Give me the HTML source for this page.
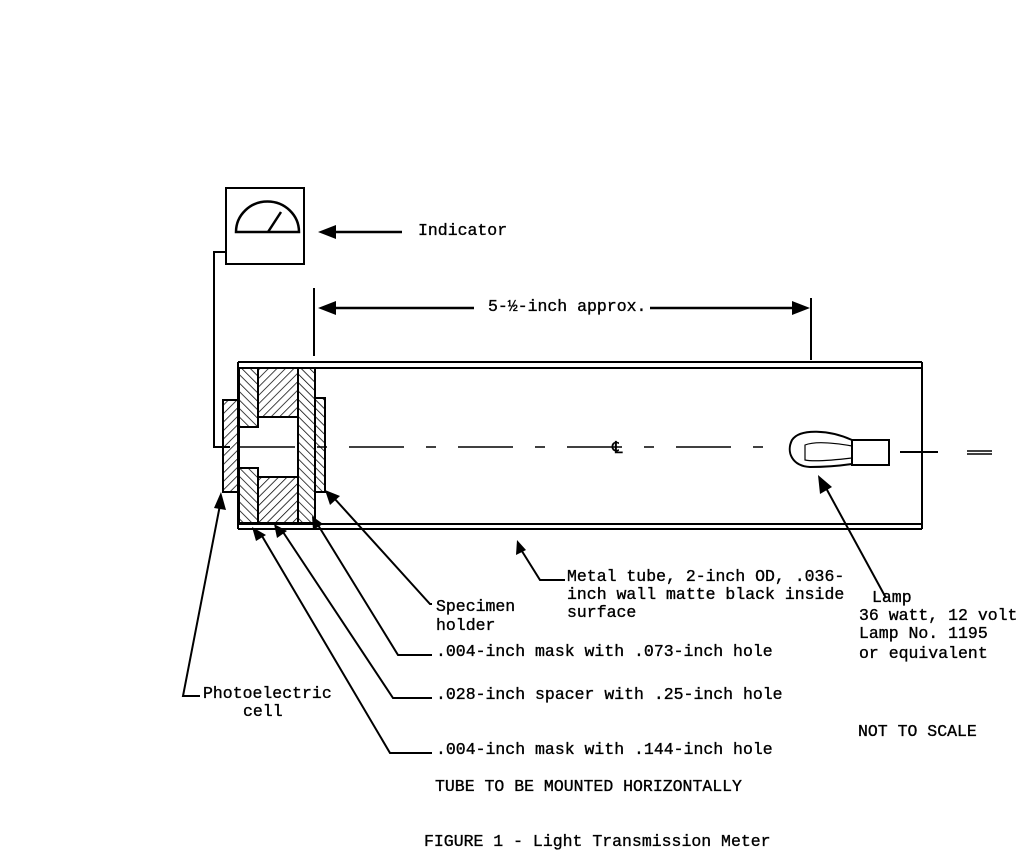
<!DOCTYPE html>
<html><head><meta charset="utf-8"><style>
html,body{margin:0;padding:0;background:#fff;}
svg{display:block;}
text{font-family:"Liberation Mono",monospace;font-size:16.5px;fill:#000;stroke:#000;stroke-width:0.35;}
</style></head><body>
<svg width="1018" height="851" viewBox="0 0 1018 851" xmlns="http://www.w3.org/2000/svg">
<defs>
<pattern id="h1" width="6" height="6" patternUnits="userSpaceOnUse" patternTransform="rotate(45)"><line x1="0" y1="0" x2="0" y2="6" stroke="#000" stroke-width="1.5"/></pattern>
<pattern id="h2" width="6" height="6" patternUnits="userSpaceOnUse" patternTransform="rotate(-45)"><line x1="0" y1="0" x2="0" y2="6" stroke="#000" stroke-width="1.5"/></pattern>
</defs>
<g fill="none" stroke="#000" stroke-width="2">
<rect x="226" y="188" width="78" height="76"/>
<path d="M236,232 A31,30 0 0 1 299,232 Z" stroke-width="2.5"/>
<line x1="268" y1="232" x2="281" y2="212" stroke-width="2.5"/>
<polyline points="226,252 214,252 214,447 230,447"/>
<line x1="332" y1="232" x2="402" y2="232" stroke-width="2.5"/>
<line x1="314" y1="288" x2="314" y2="356"/>
<line x1="811" y1="298" x2="811" y2="360"/>
<line x1="332" y1="308" x2="474" y2="308" stroke-width="2.5"/>
<line x1="650" y1="308" x2="796" y2="308" stroke-width="2.5"/>
<line x1="238" y1="362" x2="922" y2="362"/>
<line x1="238" y1="368" x2="922" y2="368"/>
<line x1="238" y1="524" x2="922" y2="524"/>
<line x1="238" y1="529" x2="922" y2="529"/>
<line x1="922" y1="362" x2="922" y2="529"/>
<line x1="238" y1="362" x2="238" y2="529"/>
<line x1="240" y1="447" x2="780" y2="447" stroke-dasharray="55,22,10,22" stroke-width="1.5"/>
<line x1="900" y1="452" x2="938" y2="452"/>
<line x1="922" y1="438" x2="922" y2="465"/>
<line x1="967" y1="451" x2="992" y2="451" stroke-width="1.5"/>
<line x1="967" y1="454" x2="992" y2="454" stroke-width="1.5"/>
<path d="M852,440 C830,430 800,428 792,440 C786,452 792,466 810,467 C830,467 845,465 852,464"/>
<path d="M852,446 C835,443 815,441 805,445 L805,460 C815,462 835,460 852,458" stroke-width="1.2"/>
<rect x="852" y="440" width="37" height="25"/>
<line x1="886" y1="598" x2="826" y2="488"/>
<polyline points="565,580 540,580 520,548"/>
<polyline points="432,604 430,604 334,498"/>
<polyline points="432,655 398,655 318,525"/>
<polyline points="432,698 393,698 283,532"/>
<polyline points="432,753 390,753 262,536"/>
<polyline points="200,696 183,696 220,505"/>
</g>
<g stroke="#000" stroke-width="2">
<rect x="223" y="400" width="16" height="92" fill="url(#h1)"/>
<rect x="239" y="368" width="19" height="59" fill="url(#h2)"/>
<rect x="239" y="468" width="19" height="55" fill="url(#h2)"/>
<rect x="258" y="368" width="40" height="49" fill="url(#h1)"/>
<rect x="258" y="477" width="40" height="46" fill="url(#h1)"/>
<rect x="298" y="368" width="17" height="155" fill="url(#h2)"/>
<rect x="315" y="398" width="10" height="94" fill="url(#h2)"/>
</g>
<g fill="#000">
<path d="M318,232 L336,225 L336,239 Z"/>
<path d="M318,308 L336,301 L336,315 Z"/>
<path d="M810,308 L792,301 L792,315 Z"/>
<path d="M818,475 L820,494 L832,487 Z"/>
<path d="M517,540 L516,555 L526,550 Z"/>
<path d="M325,490 L330,505 L340,496 Z"/>
<path d="M312,516 L313,530 L323,524 Z"/>
<path d="M274,524 L277,538 L287,531 Z"/>
<path d="M252,527 L256,541 L266,535 Z"/>
<path d="M221,492 L214,508 L226,510 Z"/>
</g>
<text x="418" y="235">Indicator</text>
<text x="488" y="311">5-½-inch approx.</text>
<text x="612" y="453" font-size="20">℄</text>
<text x="567" y="581">Metal tube, 2-inch OD, .036-</text>
<text x="567" y="599">inch wall matte black inside</text>
<text x="567" y="617">surface</text>
<text x="436" y="611">Specimen</text>
<text x="436" y="630">holder</text>
<text x="436" y="656">.004-inch mask with .073-inch hole</text>
<text x="436" y="699">.028-inch spacer with .25-inch hole</text>
<text x="436" y="754">.004-inch mask with .144-inch hole</text>
<text x="203" y="698">Photoelectric</text>
<text x="243" y="716">cell</text>
<text x="872" y="602">Lamp</text>
<text x="859" y="620">36 watt, 12 volt</text>
<text x="859" y="638">Lamp No. 1195</text>
<text x="859" y="658">or equivalent</text>
<text x="858" y="736">NOT TO SCALE</text>
<text x="435" y="791">TUBE TO BE MOUNTED HORIZONTALLY</text>
<text x="424" y="846">FIGURE 1 - Light Transmission Meter</text>
</svg>
</body></html>
